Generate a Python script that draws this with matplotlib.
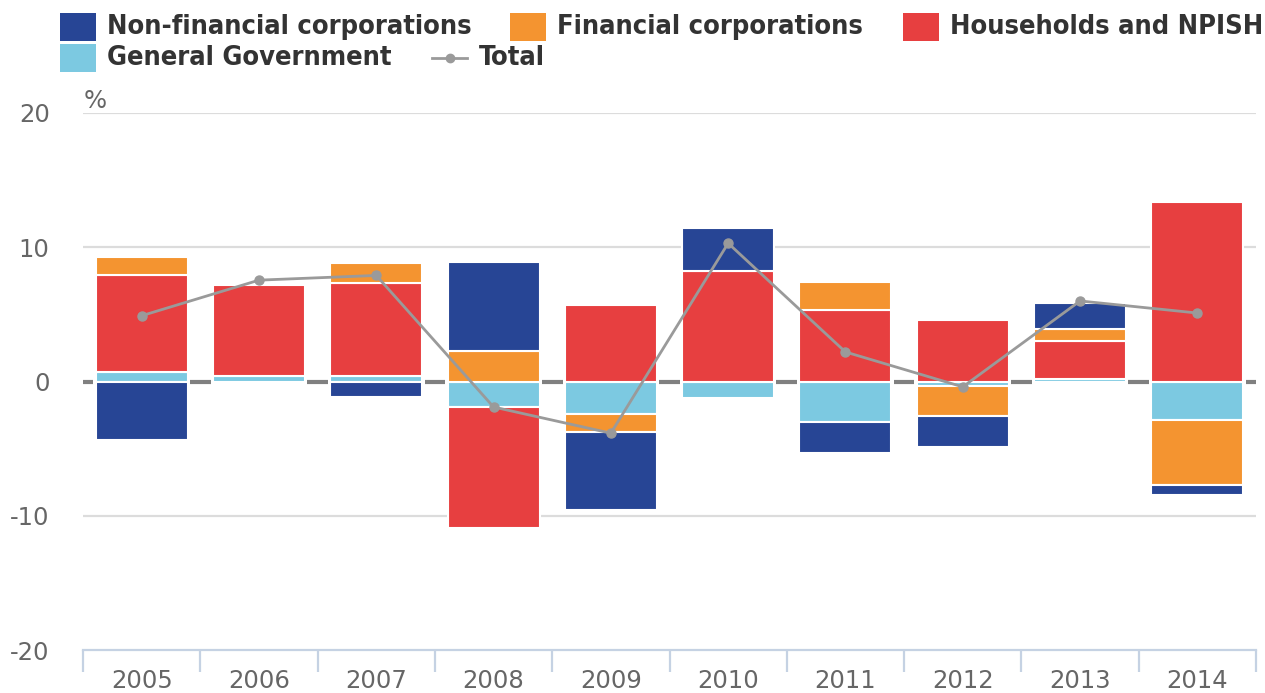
import matplotlib
matplotlib.use("Agg")
import matplotlib.pyplot as plt
import numpy as np
from matplotlib.patches import Rectangle
from matplotlib.lines import Line2D

years = ["2005", "2006", "2007", "2008", "2009", "2010", "2011", "2012", "2013", "2014"]
general_gov = [0.7, 0.4, 0.4, -1.9, -2.4, -1.2, -3.0, -0.35, 0.2, -2.85]
households = [7.2, 6.8, 6.9, -9.0, 5.7, 8.25, 5.3, 4.55, 2.85, 13.4]
financial = [1.35, 0.0, 1.55, 2.27, -1.35, 0.0, 2.1, -2.2, 0.87, -4.87]
non_financial = [-4.35, 0.0, -1.15, 6.6, -5.8, 3.18, -2.35, -2.33, 1.95, -0.7]
total = [4.9, 7.55, 7.9, -1.9, -3.85, 10.3, 2.2, -0.4, 6.0, 5.1]

series = [
    ("General Government", general_gov, "#7cc9e1"),
    ("Households and NPISH", households, "#e73f40"),
    ("Financial corporations", financial, "#f49430"),
    ("Non-financial corporations", non_financial, "#274595"),
]

W, H = 1265, 693
fig = plt.figure(figsize=(W / 100, H / 100), dpi=100)
ax = fig.add_axes([83 / W, 1 - 650 / H, (1256 - 83) / W, (650 - 113) / H])

x = np.arange(len(years))
pos_base = np.zeros(len(years))
neg_base = np.zeros(len(years))

# zero line: short dashes centred on category boundaries (behind bars)
bounds = np.arange(-0.5, len(years) + 0.5)
ax.hlines([0] * len(bounds), bounds - 0.088, bounds + 0.088, color="#808080",
          lw=3, zorder=1)
for yv in [10, -10, 20]:
    ax.axhline(yv, color="#dcdcdc", lw=1.6, zorder=0)

for name, vals, col in series:
    v = np.array(vals, dtype=float)
    bottoms = np.where(v >= 0, pos_base, neg_base)
    nz = v != 0
    ax.bar(x[nz], v[nz], bottom=bottoms[nz], width=0.785, color=col,
           edgecolor="white", linewidth=1.5, zorder=2)
    pos_base = pos_base + np.where(v > 0, v, 0)
    neg_base = neg_base + np.where(v < 0, v, 0)

ax.plot(x, total, color="#9a9a9a", lw=2, marker="o", markersize=6.5, zorder=4)

ax.set_xlim(-0.5, len(years) - 0.5)
ax.set_ylim(-20, 20)
for s in ["top", "right", "left"]:
    ax.spines[s].set_visible(False)
ax.spines["bottom"].set_color("#c5d2e3")
ax.spines["bottom"].set_linewidth(1.6)
ax.spines["bottom"].set_zorder(3)

ax.set_xticks(x)
ax.set_xticklabels(years)
ax.set_xticks(bounds, minor=True)
ax.tick_params(axis="x", which="major", length=0, pad=14, labelsize=17.5, labelcolor="#666666")
ax.tick_params(axis="x", which="minor", length=15.5, width=1.6, color="#c5d2e3")

ax.set_yticks([-20, -10, 0, 10, 20])
ax.set_yticklabels(["-20", "-10", "0", "10", "20"])
ax.tick_params(axis="y", length=0, pad=24, labelsize=17.5, labelcolor="#666666")

def fx(px):
    return px / W

def fy(py):
    return 1 - py / H

fig.text(fx(84), fy(101), "%", fontsize=17.5, color="#666666", va="center", ha="left")

LEG_FS = 19.5
legend_items = [
    ("Non-financial corporations", "#274595", 60, 27),
    ("Financial corporations", "#f49430", 510, 27),
    ("Households and NPISH", "#e73f40", 903, 27),
    ("General Government", "#7cc9e1", 60, 58),
]
for label, col, px, py in legend_items:
    fig.patches.append(Rectangle((fx(px), fy(py + 14)), 36 / W, 28 / H,
                                 transform=fig.transFigure, facecolor=col,
                                 edgecolor="none"))
    fig.text(fx(px + 47), fy(py), label, fontsize=LEG_FS, fontweight="bold",
             fontstretch="condensed", color="#333333", va="center", ha="left")

fig.lines.append(Line2D([fx(432), fx(467)], [fy(58), fy(58)], transform=fig.transFigure,
                        color="#9a9a9a", lw=2))
fig.lines.append(Line2D([fx(449.5)], [fy(58)], transform=fig.transFigure,
                        color="#9a9a9a", marker="o", markersize=6))
fig.text(fx(479), fy(58), "Total", fontsize=LEG_FS, fontweight="bold",
         fontstretch="condensed", color="#333333", va="center", ha="left")

fig.savefig("out.png", dpi=100)
